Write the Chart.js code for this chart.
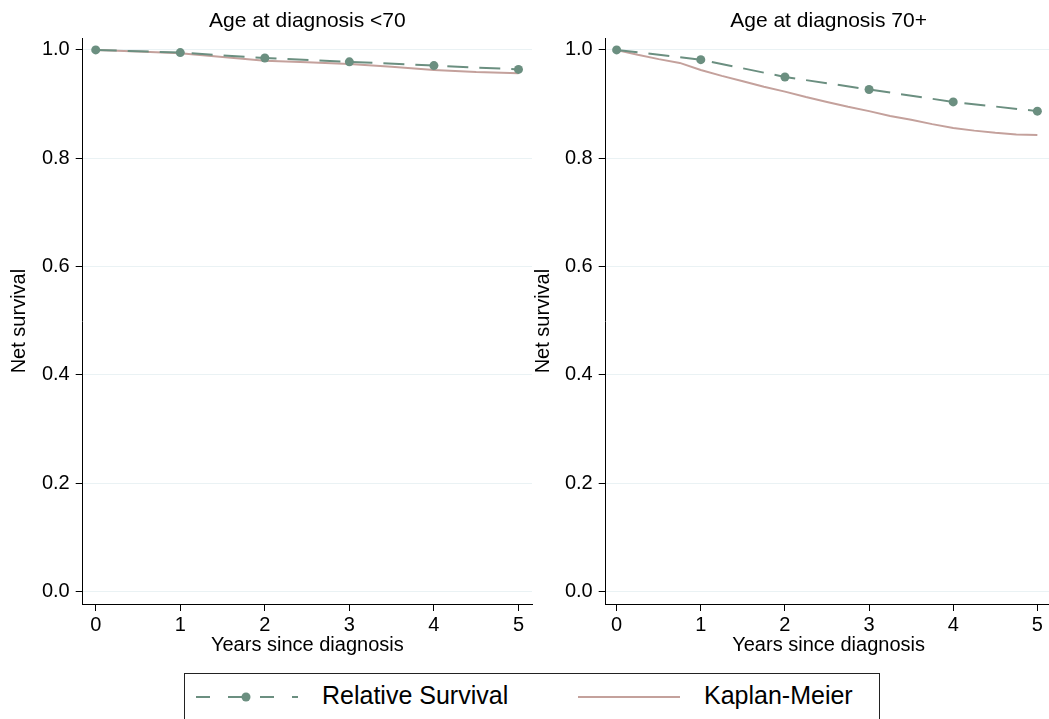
<!DOCTYPE html>
<html>
<head>
<meta charset="utf-8">
<script src="https://cdn.jsdelivr.net/npm/chart.js@4"></script>
<style>
html, body { margin:0; padding:0; background:#fff; overflow:hidden; width:1049px; height:719px; position:relative; }
canvas { position:absolute; top:0; }
#legend { position:absolute; left:184px; top:673px; width:696px; height:70px; border:1.5px solid #222; box-sizing:border-box;
  font-family:'Liberation Sans', Arial, sans-serif; font-size:25px; color:#000; }
#legend span { position:absolute; top:9px; line-height:25px; white-space:nowrap; }
#legend svg { position:absolute; left:0; top:0; }
</style>
</head>
<body>
<canvas id="left" width="540" height="660" style="left:0"></canvas>
<canvas id="right" width="532" height="660" style="left:524px"></canvas>
<div id="legend">
  <svg width="520" height="50">
    <line x1="11" y1="23" x2="113" y2="23" stroke="#6b8f80" stroke-width="2" stroke-dasharray="14 18"/>
    <line x1="57" y1="23" x2="61" y2="23" stroke="#6b8f80" stroke-width="2"/>
    <circle cx="61" cy="23" r="4.5" fill="#6b8f80"/>
    <line x1="393" y1="23" x2="495" y2="23" stroke="#c4a19c" stroke-width="2"/>
  </svg>
  <span style="left:137px">Relative Survival</span>
  <span style="left:519px">Kaplan-Meier</span>
</div>
<script>
const years = [0, 1, 2, 3, 4, 5];
const yTicks = [0, 0.2, 0.4, 0.6, 0.8, 1.0];

// relative survival estimates at each year
const rsUnder70 = [1.0, 0.995, 0.985, 0.978, 0.971, 0.964];
const rsOver70 = [1.0, 0.982, 0.950, 0.927, 0.904, 0.887];

// Kaplan-Meier curves
const kmTimeUnder70 = [0, 0.5, 1, 1.5, 2, 2.5, 3, 3.5, 4, 4.5, 5];
const kmUnder70 = [1.0, 0.997, 0.994, 0.987, 0.980, 0.977, 0.974, 0.969, 0.963, 0.959, 0.957];
const kmTimeOver70 = [0, 0.25, 0.5, 0.75, 1, 1.25, 1.5, 1.75, 2, 2.25, 2.5, 2.75, 3, 3.25, 3.5, 3.75, 4, 4.25, 4.5, 4.75, 5];
const kmOver70 = [1.0, 0.991, 0.983, 0.976, 0.963, 0.952, 0.942, 0.932, 0.923, 0.913, 0.904, 0.895, 0.887,
                  0.878, 0.871, 0.863, 0.856, 0.851, 0.847, 0.844, 0.843];

const rsColor = '#6b8f80';
const kmColor = '#c4a19c';

Chart.defaults.font.family = "'Liberation Sans', Arial, sans-serif";
Chart.defaults.color = '#000';

function makePanel(id, title, rs, kmT, km, xMin, xMax, yAxisW, padRight) {
  const ctx = document.getElementById(id).getContext('2d');
  return new Chart(ctx, {
    type: 'line',
    data: {
      datasets: [{
        label: 'Relative Survival',
        data: years.map((t, i) => ({x: t, y: rs[i]})),
        borderColor: rsColor,
        backgroundColor: rsColor,
        borderWidth: 2,
        borderDash: [21, 11],
        pointRadius: 4.5,
        pointBorderWidth: 0,
        order: 1
      }, {
        label: 'Kaplan-Meier',
        data: kmT.map((t, i) => ({x: t, y: km[i]})),
        borderColor: kmColor,
        borderWidth: 2,
        pointRadius: 0,
        order: 2
      }]
    },
    options: {
      responsive: false,
      animation: false,
      devicePixelRatio: 1,
      layout: { padding: { right: padRight } },
      plugins: {
        legend: { display: false },
        tooltip: { enabled: false },
        title: {
          display: true,
          text: title,
          fullSize: false,
          font: { size: 21, weight: 'normal' },
          padding: { top: 9, bottom: 4 }
        }
      },
      scales: {
        x: {
          type: 'linear',
          min: xMin,
          max: xMax,
          afterBuildTicks: s => { s.ticks = years.map(v => ({value: v})); },
          afterFit: s => { s.height = 56; },
          ticks: { font: { size: 20 }, padding: 2, maxRotation: 0, callback: v => String(v) },
          grid: { drawOnChartArea: false, tickColor: '#000', tickLength: 7 },
          border: { color: '#000', width: 1 },
          title: { display: true, text: 'Years since diagnosis', font: { size: 20 }, padding: { top: 0, bottom: 3 } }
        },
        y: {
          min: -0.0227,
          max: 1.0216,
          afterBuildTicks: s => { s.ticks = yTicks.map(v => ({value: v})); },
          afterFit: s => { s.width = yAxisW; },
          ticks: { font: { size: 20 }, padding: 6, callback: v => v.toFixed(1) },
          grid: { color: '#eaf2f4', lineWidth: 1, tickColor: '#000', tickLength: 7 },
          border: { color: '#000', width: 1 },
          title: { display: true, text: 'Net survival', font: { size: 20 }, padding: { top: 7, bottom: 0 } }
        }
      }
    }
  });
}

makePanel('left', 'Age at diagnosis <70', rsUnder70, kmTimeUnder70, kmUnder70, -0.154, 5.16, 82.7, 8);
makePanel('right', 'Age at diagnosis 70+', rsOver70, kmTimeOver70, kmOver70, -0.13, 5.168, 81.7, 0);
</script>
</body>
</html>
